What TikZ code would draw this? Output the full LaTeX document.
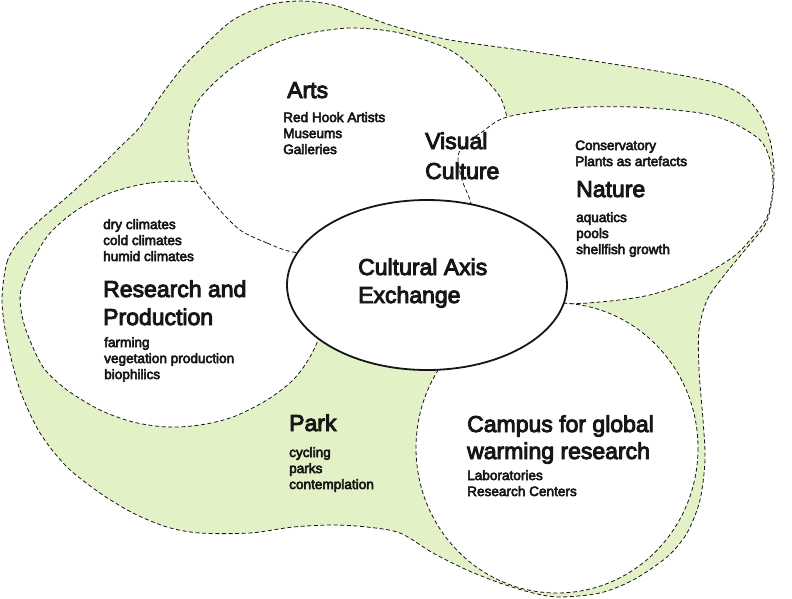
\documentclass[tikz,border=0pt]{standalone}
\usepackage{fontspec}
\setmainfont{Liberation Sans}[FakeBold=4]
\definecolor{parkgreen}{RGB}{227,241,199}
\definecolor{inkc}{RGB}{22,22,22}
\tikzset{
  zone/.style={draw=inkc, dash pattern=on 4pt off 2.6pt, line width=0.8pt},
  zonefill/.style={fill=white},
  axisring/.style={draw=inkc, line width=1.8pt, fill=white},
  bigtxt/.style={anchor=base west, inner sep=0pt, text=inkc, font=\fontsize{23}{28}\selectfont},
  smalltxt/.style={anchor=base west, inner sep=0pt, text=inkc, font=\fontsize{13.6}{16}\selectfont},
}
\begin{document}
\begin{tikzpicture}[x=1pt,y=-1pt]
\useasboundingbox (0,0) rectangle (792,598);
\fill[white] (0,0) rectangle (792,598);

% green blob
\path[zone, fill=parkgreen] plot[smooth cycle] coordinates {
(2,300) (7,262) (20,240) (40,220) (67,197) (100,167) (120,147) (140,127) (160,97) (183,67) (207,43) (233,20) (267,5) (300,1) (333,5) (367,17) (400,28) (450,40) (520,50) (600,62) (680,75) (720,84) (745,97) (760,115) (770,140) (774,170) (772,200) (765,225) (745,250) (722,278) (707,300) (699,330) (699,370) (703,420) (705,460) (700,500) (687,533) (667,557) (633,580) (600,593) (560,597) (533,593) (500,583) (467,570) (433,553) (400,533) (367,527) (333,525) (293,527) (250,533) (200,533) (167,527) (133,513) (100,493) (67,467) (40,433) (20,390) (7,340)};

% Research and Production
\path[zone, zonefill] plot[smooth cycle] coordinates {
(197,182) (150,183) (110,193) (77,210) (50,233) (33,260) (21,290) (21,310) (27,333) (43,367) (67,390) (100,410) (133,422) (167,427) (200,425) (233,417) (267,400) (293,380) (310,357) (322,330) (330,300) (320,260) (290,220) (250,195)};

% Arts
\path[zone, zonefill] plot[smooth cycle] coordinates {
(293,252) (267,243) (240,230) (217,207) (197,182) (190,163) (188,140) (193,110) (207,90) (233,67) (267,47) (300,35) (350,28) (400,33) (450,50) (483,77) (500,97) (507,117) (513,145) (505,175) (485,205) (450,232) (400,250) (340,256)};

% Nature
\path[zone, zonefill] plot[smooth cycle] coordinates {
(507,117) (567,108) (633,107) (700,113) (733,123) (760,140) (770,160) (773,187) (767,217) (750,240) (733,257) (700,277) (667,290) (640,297) (600,302) (563,303) (530,290) (500,262) (478,228) (470,200) (462,180) (458,160) (462,147) (482,132)};

% Campus
\path[zone, zonefill] (557,448) ellipse [x radius=141, y radius=145];

% Central
\path[axisring] (427,285) ellipse [x radius=140, y radius=85];

% texts
\node[bigtxt] (arts) at (287,98) {Arts};
\node[smalltxt] (artslist) at (283,122) {\vtop{\hbox{Red Hook Artists}\hbox{Museums}\hbox{Galleries}}};
\node[bigtxt] (visual) at (425,149) {\vtop{\baselineskip=30pt\hbox{Visual}\hbox{Culture}}};
\node[smalltxt] (natlist1) at (575,150) {\vtop{\hbox{Conservatory}\hbox{Plants as artefacts}}};
\node[bigtxt] (nature) at (576,197) {Nature};
\node[smalltxt] (natlist2) at (576,222) {\vtop{\hbox{aquatics}\hbox{pools}\hbox{shellfish growth}}};
\node[smalltxt] (reslist1) at (103,229) {\vtop{\hbox{dry climates}\hbox{cold climates}\hbox{humid climates}}};
\node[bigtxt] (research) at (103,297) {\vtop{\hbox{Research and}\hbox{Production}}};
\node[smalltxt] (reslist2) at (104,347) {\vtop{\hbox{farming}\hbox{vegetation production}\hbox{biophilics}}};
\node[bigtxt] (axis) at (358,275) {\vtop{\hbox{Cultural Axis}\hbox{Exchange}}};
\node[bigtxt] (park) at (289,431) {Park};
\node[smalltxt] (parklist) at (289,457) {\vtop{\hbox{cycling}\hbox{parks}\hbox{contemplation}}};
\node[bigtxt] (campus) at (467,432) {\vtop{\baselineskip=27pt\hbox{Campus for global}\hbox{warming research}}};
\node[smalltxt] (campuslist) at (467,480) {\vtop{\hbox{Laboratories}\hbox{Research Centers}}};
\end{tikzpicture}
\end{document}
